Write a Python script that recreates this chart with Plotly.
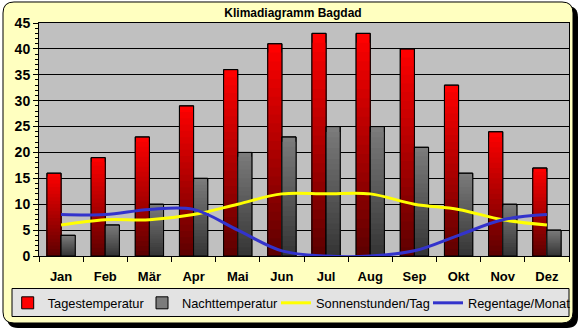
import plotly.graph_objects as go

# ---- data ----
months = ['Jan', 'Feb', 'Mär', 'Apr', 'Mai', 'Jun', 'Jul', 'Aug', 'Sep', 'Okt', 'Nov', 'Dez']
tagestemperatur = [16, 19, 23, 29, 36, 41, 43, 43, 40, 33, 24, 17]
nachttemperatur = [4, 6, 10, 15, 20, 23, 25, 25, 21, 16, 10, 5]
sonnenstunden = [6, 7, 7, 8, 10, 12, 12, 12, 10, 9, 7, 6]
regentage = [8, 8, 9, 9, 5, 1, 0, 0, 1, 4, 7, 8]

# ---- geometry (pixels) ----
W, H = 582, 330
PL, PR, PT, PB = 39, 569, 23, 256
FONT = 'Liberation Sans, Arial, sans-serif'


def pxx(x):
    return (x - PL) / (PR - PL)


def pxy(y):
    return (PB - y) / (PB - PT)


def rounded(x0, y0, x1, y1, r):
    pts = [
        ('M', [(x0 + r, y0)]), ('L', [(x1 - r, y0)]), ('Q', [(x1, y0), (x1, y0 + r)]),
        ('L', [(x1, y1 - r)]), ('Q', [(x1, y1), (x1 - r, y1)]), ('L', [(x0 + r, y1)]),
        ('Q', [(x0, y1), (x0, y1 - r)]), ('L', [(x0, y0 + r)]), ('Q', [(x0, y0), (x0 + r, y0)]),
    ]
    s = ''
    for cmd, ps in pts:
        s += cmd + ' ' + ' '.join(f'{pxx(a):.5f},{pxy(b):.5f}' for a, b in ps) + ' '
    return s + 'Z'


def mix(c_bot, c_top, f):
    return 'rgb(%d,%d,%d)' % tuple(round(b + (t - b) * f) for b, t in zip(c_bot, c_top))


fig = go.Figure()

N = 24
series = [
    ('Tagestemperatur', tagestemperatur, (255, 0, 0), (92, 0, 0), -0.32, 'legend'),
    ('Nachttemperatur', nachttemperatur, (124, 124, 124), (52, 52, 52), 0.0, 'legend2'),
]
for name, vals, top, bot, off, lg in series:
    for k in range(N, 0, -1):
        f = (k - 0.5) / N if k < N else 1.0
        fig.add_trace(go.Bar(
            x=months, y=[v * k / N for v in vals], name=name, legendgroup=name,
            legend=lg, showlegend=(k == N), offset=off, width=0.32,
            marker=dict(color=mix(bot, top, f),
                        line=dict(color='black', width=1 if k == N else 0)),
            hoverinfo='skip'))
    fig.add_trace(go.Bar(
        x=months, y=vals, name=name, legendgroup=name, legend=lg, showlegend=False,
        offset=off, width=0.32,
        marker=dict(color='rgba(0,0,0,0)', line=dict(color='black', width=1))))

fig.add_trace(go.Scatter(
    x=months, y=sonnenstunden, name='Sonnenstunden/Tag', mode='lines', legend='legend3',
    line=dict(color='#FFFF00', width=3, shape='spline'), cliponaxis=False))
fig.add_trace(go.Scatter(
    x=months, y=regentage, name='Regentage/Monat', mode='lines', legend='legend4',
    line=dict(color='#3333CC', width=3, shape='spline'), cliponaxis=False))

shapes = [
    dict(type='path', xref='paper', yref='paper', layer='below',
         path=rounded(7, 6, 578, 328, 11), fillcolor='black', line=dict(width=0)),
    dict(type='path', xref='paper', yref='paper', layer='below',
         path=rounded(3, 2, 573, 323, 11), fillcolor='#FFFFC0',
         line=dict(color='black', width=1)),
    dict(type='rect', xref='paper', yref='paper', layer='below',
         x0=0, x1=1, y0=0, y1=1, fillcolor='#C0C0C0', line=dict(width=0)),
    # legend frame
    dict(type='rect', xref='paper', yref='paper', layer='below',
         x0=pxx(12), x1=pxx(569), y0=pxy(288.5), y1=pxy(316.5),
         fillcolor='#E3E3E3', line=dict(color='black', width=1)),
]

leg_base = dict(orientation='h', xanchor='left', y=pxy(288), yanchor='top',
                bgcolor='rgba(0,0,0,0)', borderwidth=0,
                font=dict(family=FONT, size=12.8, color='black'),
                itemclick=False, itemdoubleclick=False)
legend_text_x = [47.7, 182, 316, 468]

fig.update_layout(
    width=W, height=H,
    margin=dict(l=PL, r=W - PR, t=PT, b=H - PB, autoexpand=False),
    paper_bgcolor='white', plot_bgcolor='#C0C0C0',
    barmode='overlay',
    shapes=shapes,
    title=dict(text='Klimadiagramm Bagdad', xref='paper', x=pxx(293), xanchor='center',
               yref='container', y=1 - 12.5 / H, yanchor='middle',
               font=dict(family=FONT, size=12, color='black', weight='bold')),
    legend=dict(leg_base, x=pxx(legend_text_x[0] - 40)),
    legend2=dict(leg_base, x=pxx(legend_text_x[1] - 40)),
    legend3=dict(leg_base, x=pxx(legend_text_x[2] - 40)),
    legend4=dict(leg_base, x=pxx(legend_text_x[3] - 40)),
    font=dict(family=FONT, color='black'),
)

fig.update_xaxes(
    type='category', showgrid=False, showline=True, linecolor='black', linewidth=1,
    mirror=True, ticks='outside', tickson='boundaries', ticklen=5, tickcolor='black',
    ticklabelstandoff=8,
    tickfont=dict(family=FONT, size=13, color='black', weight='bold'))
fig.update_yaxes(
    range=[0, 45], dtick=5, showgrid=True, gridcolor='black', gridwidth=1,
    zeroline=False, showline=True, linecolor='black', linewidth=1, mirror=True,
    ticks='outside', ticklen=5, tickcolor='black',
    minor=dict(dtick=1, ticks='outside', ticklen=3, tickcolor='black', showgrid=False),
    tickfont=dict(family=FONT, size=14, color='black', weight='bold'))

fig.write_html('out.html')
